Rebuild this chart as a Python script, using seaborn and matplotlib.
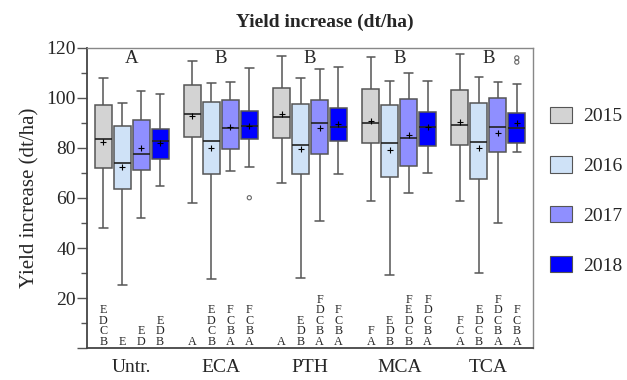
import numpy as np
import pandas as pd
import seaborn as sns
import matplotlib.pyplot as plt
from matplotlib.patches import Patch
from matplotlib.ticker import MultipleLocator

# 数据：每组 5 个处理 × 4 年
groups = ['Untr.', 'ECA', 'PTH', 'MCA', 'TCA']
years = ['2015', '2016', '2017', '2018']
colors = ['#d3d3d3', '#cfe2f7', '#8f8fff', '#0000ff']

# 须下端、Q1、中位数、Q3、须上端、均值（按年份，组顺序同 groups）
lo = {'2015': [47.9, 57.9, 65.9, 58.8, 58.8],
      '2016': [25.2, 27.5, 28.1, 29.2, 29.9],
      '2017': [52.1, 70.8, 50.8, 61.9, 49.9],
      '2018': [64.8, 72.3, 69.5, 70.1, 78.3]}
q1 = {'2015': [71.9, 84.5, 84.1, 81.9, 81.2],
      '2016': [63.5, 69.5, 69.5, 68.5, 67.5],
      '2017': [71.2, 79.6, 77.6, 72.9, 78.3],
      '2018': [75.5, 83.5, 82.8, 80.8, 82.1]}
med = {'2015': [83.6, 93.6, 92.5, 89.9, 89.2],
       '2016': [73.9, 82.8, 81.2, 82.1, 82.5],
       '2017': [77.6, 87.9, 90.1, 84.1, 88.3],
       '2018': [82.8, 88.8, 88.5, 88.5, 87.9]}
q3 = {'2015': [97.2, 105.2, 103.9, 103.6, 103.2],
      '2016': [88.9, 98.3, 97.6, 97.2, 97.9],
      '2017': [91.2, 99.2, 99.2, 99.5, 100.1],
      '2018': [87.5, 94.9, 96.0, 94.5, 94.1]}
hi = {'2015': [108.1, 114.9, 116.8, 116.3, 117.6],
      '2016': [98.1, 105.9, 108.1, 106.8, 108.3],
      '2017': [102.9, 106.5, 111.5, 110.1, 106.5],
      '2018': [101.5, 112.1, 112.5, 106.8, 105.5]}
means = {'2015': [82.5, 92.9, 93.6, 90.8, 90.5],
         '2016': [72.3, 79.9, 79.6, 79.2, 79.9],
         '2017': [79.9, 88.5, 88.1, 85.2, 86.1],
         '2018': [82.1, 88.8, 89.5, 88.3, 90.1]}

# 离群点 (组, 年份, 值)
outlier_group = ['ECA', 'TCA', 'TCA']
outlier_year = ['2018', '2018', '2018']
outlier_value = [60.1, 114.3, 116.0]

# 组上方字母
group_letters = ['A', 'B', 'B', 'B', 'B']

# 箱体下方字母（自上而下）
box_letters = {'2015': ['EDCB', 'A', 'A', 'FA', 'FCA'],
               '2016': ['E', 'EDCB', 'EDB', 'EDB', 'EDCB'],
               '2017': ['ED', 'FCBA', 'FDCBA', 'FEDCB', 'FDCBA'],
               '2018': ['EDB', 'FCBA', 'FCBA', 'FDCBA', 'FCBA']}

# 五数概括 -> 长表（每个箱 5 个点，四分位正好落在点上）
rows = []
for y in years:
    for i, g in enumerate(groups):
        for v in [lo[y][i], q1[y][i], med[y][i], q3[y][i], hi[y][i]]:
            rows.append({'group': g, 'year': y, 'value': v})
df = pd.DataFrame(rows)

sns.set_style('ticks')
plt.rcParams['font.family'] = ['Liberation Serif', 'DejaVu Serif']

fig = plt.figure(figsize=(6.27, 3.8), dpi=100)
ax = fig.add_axes([0.139, 0.084, 0.711, 0.79])

width = 0.85
edge = '#555555'
sns.boxplot(data=df, x='group', y='value', hue='year', order=groups, hue_order=years,
            palette=colors, saturation=1, whis=(0, 100), width=width, gap=0.1,
            linecolor=edge, linewidth=1.1, showfliers=False, legend=False,
            medianprops={'color': '#222222', 'linewidth': 1.2}, ax=ax)

slot = width / len(years)
def xpos(g, y):
    return groups.index(g) + (years.index(y) - 1.5) * slot

# 均值 "+"
for y in years:
    xs = [xpos(g, y) for g in groups]
    ax.scatter(xs, means[y], marker='+', s=18, color='black', linewidths=0.8, zorder=5)

# 离群点
ax.scatter([xpos(g, y) for g, y in zip(outlier_group, outlier_year)], outlier_value,
           marker='o', s=9, facecolors='none', edgecolors='#666666', linewidths=0.8, zorder=5)

# 字母
for i, g in enumerate(groups):
    ax.text(i, 112.3, group_letters[i], ha='center', va='bottom', fontsize=13.5)
    for y in years:
        ax.text(xpos(g, y), 0.2, '\n'.join(box_letters[y][i]), ha='center', va='bottom',
                fontsize=8.7, linespacing=0.82)

ax.set_xlim(-0.5, 4.5)
ax.set_ylim(0, 120)
ax.yaxis.set_major_locator(MultipleLocator(20))
ax.yaxis.set_minor_locator(MultipleLocator(10))
ax.set_yticks(np.arange(0, 121, 20))
ax.set_yticklabels([''] + [str(v) for v in range(20, 121, 20)])
ax.tick_params(axis='y', which='major', length=7, width=1, color=edge, labelsize=14, pad=1)
ax.tick_params(axis='y', which='minor', length=4, width=1, color=edge)
ax.tick_params(axis='x', length=0, labelsize=14, pad=8)
ax.set_xlabel('')
ax.set_ylabel('Yield increase (dt/ha)', fontsize=15, labelpad=5)

for s in ['left', 'bottom']:
    ax.spines[s].set_color('#444444')
    ax.spines[s].set_linewidth(1.3)
for s in ['top', 'right']:
    ax.spines[s].set_color('#888888')
    ax.spines[s].set_linewidth(1)

fig.text(0.518, 0.942, 'Yield increase (dt/ha)', ha='center', va='center',
         fontsize=14, fontweight='bold')

handles = [Patch(facecolor=c, edgecolor=edge, linewidth=0.8) for c in colors]
fig.legend(handles, years, loc='upper left', bbox_to_anchor=(0.865, 0.74), frameon=False,
           fontsize=14, handlelength=1.1, handleheight=0.9, labelspacing=1.6,
           handletextpad=0.6, borderaxespad=0)

fig.savefig('out.png', dpi=100)
